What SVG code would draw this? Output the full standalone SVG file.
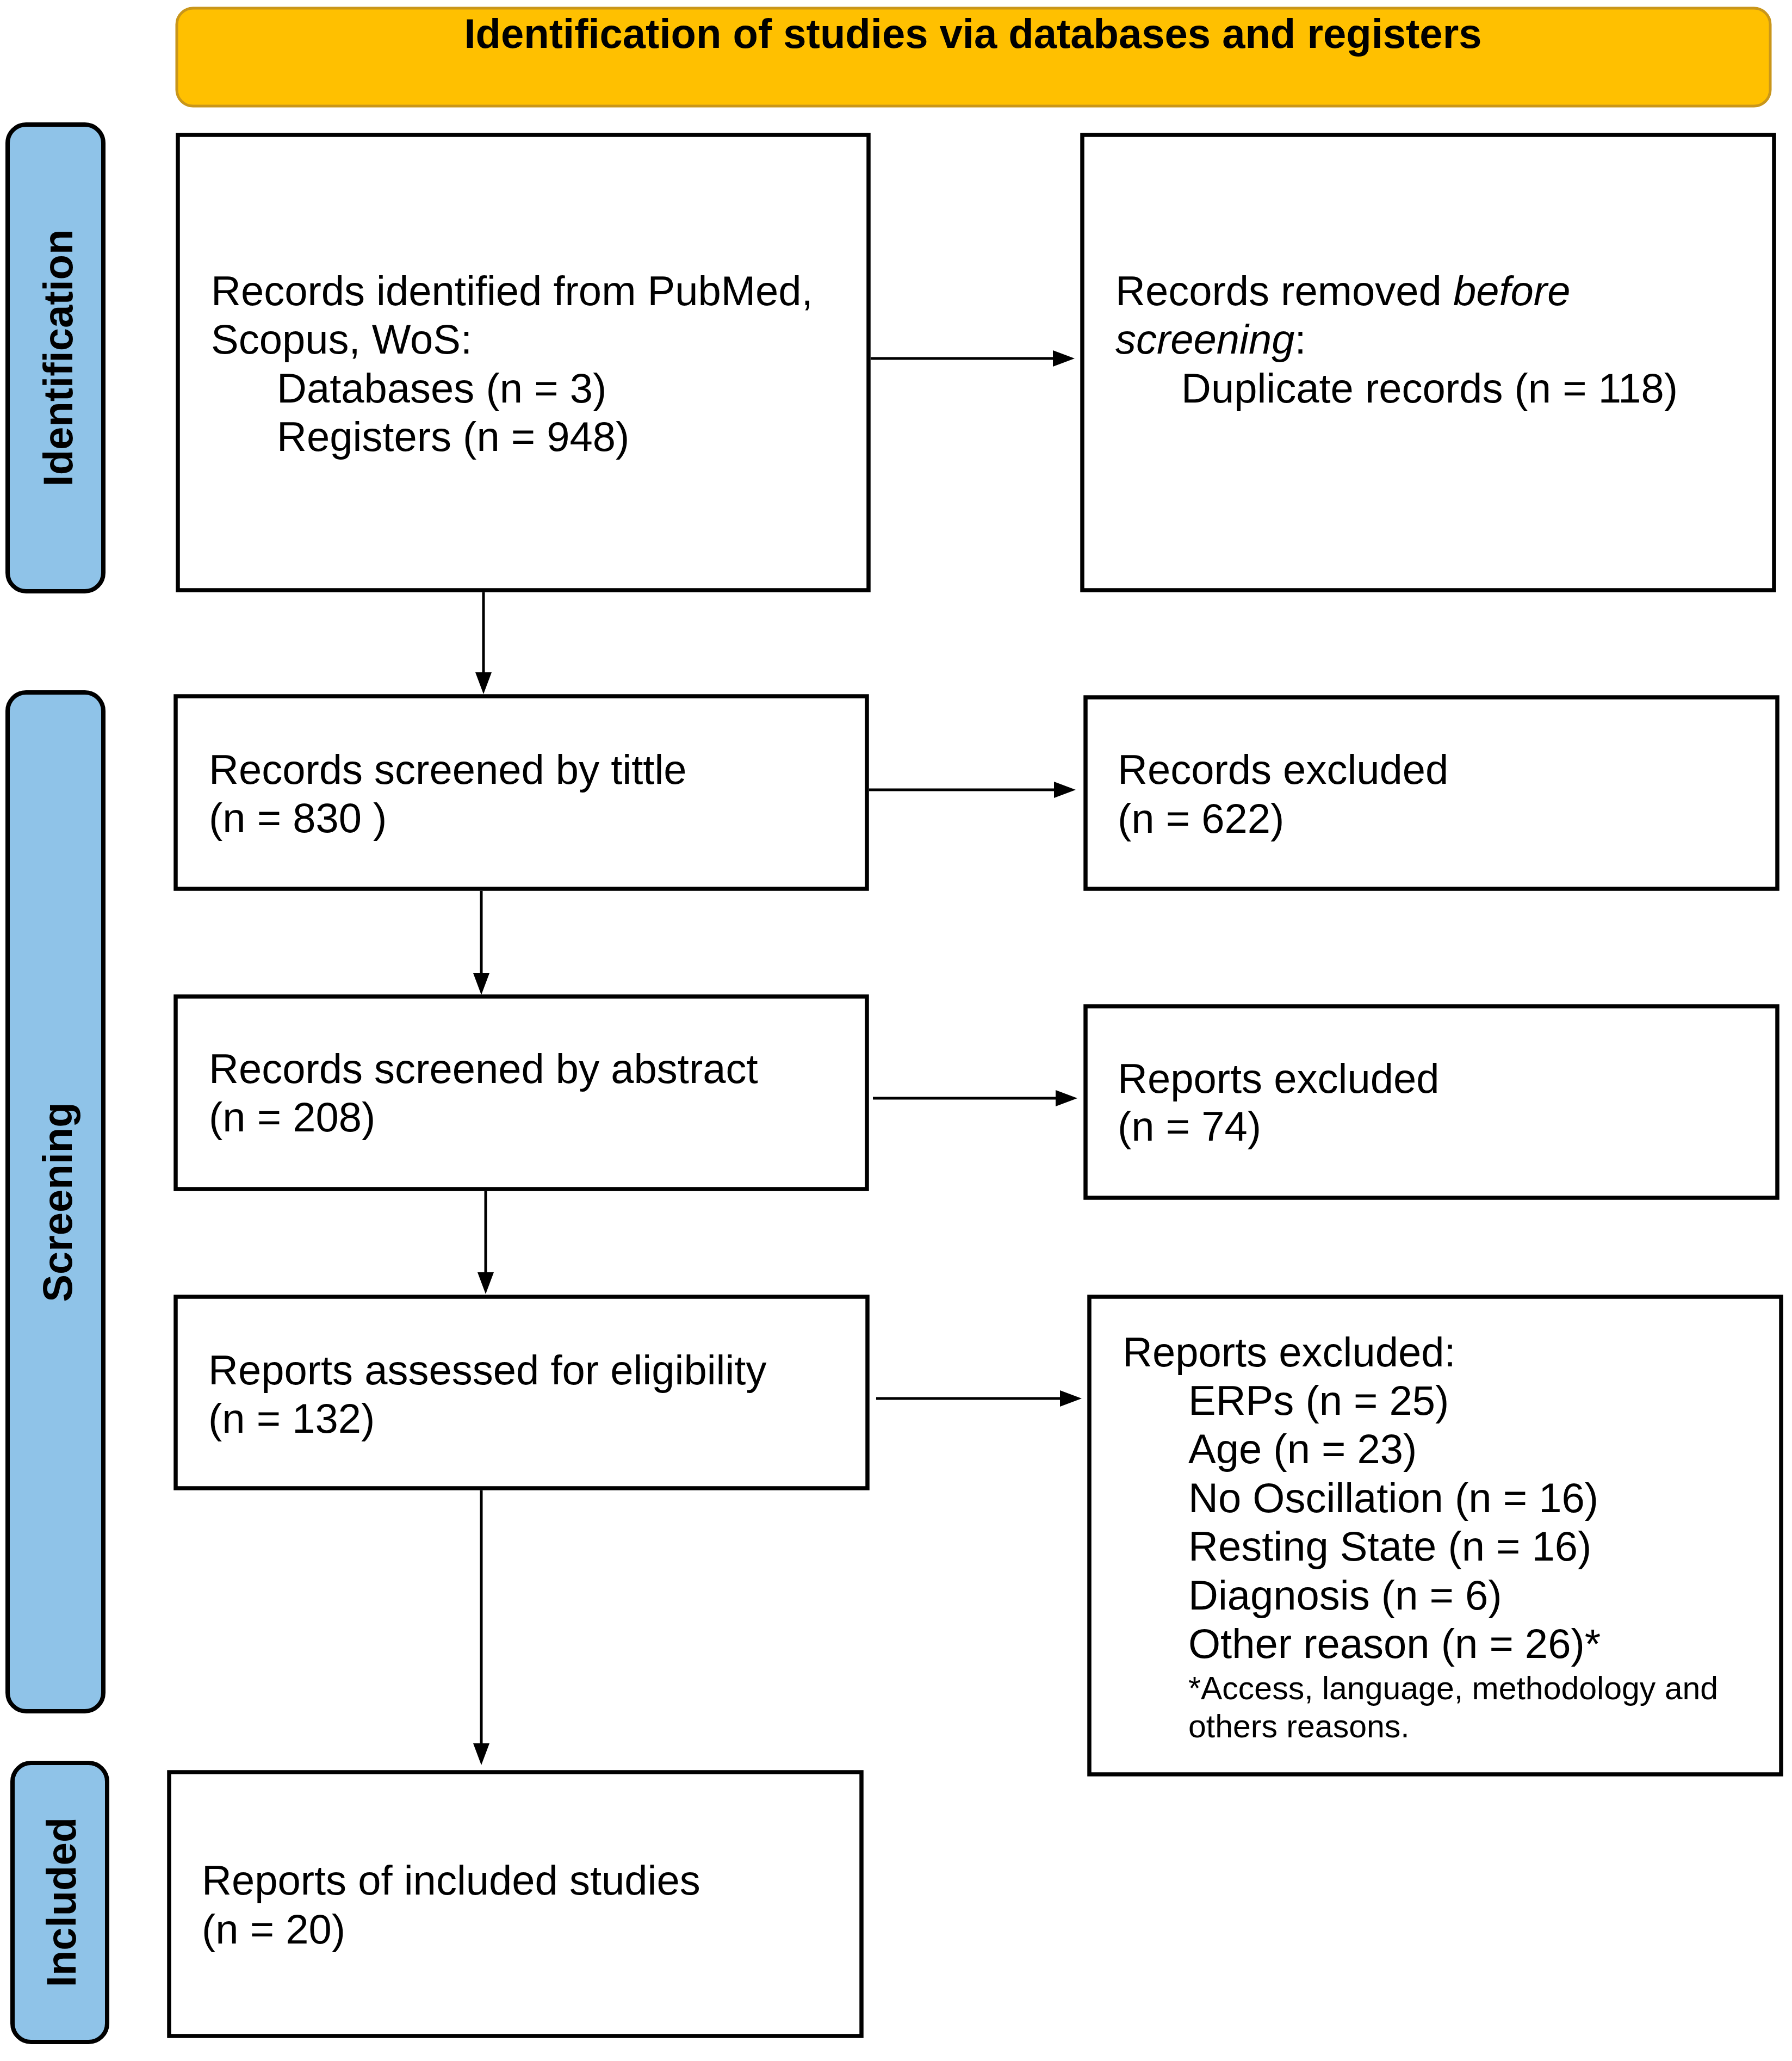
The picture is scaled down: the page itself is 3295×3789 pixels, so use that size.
<svg xmlns="http://www.w3.org/2000/svg" width="3295" height="3789" viewBox="0 0 3295 3789">
<style>
.box{fill:#ffffff;stroke:#000000;stroke-width:7.5}
.phase{fill:#8FC3E8;stroke:#000000;stroke-width:8}
.t{font-family:"Liberation Sans",Arial,sans-serif;font-size:76px;fill:#000000}
.ts{font-family:"Liberation Sans",Arial,sans-serif;font-size:59px;fill:#000000}
.pt{font-family:"Liberation Sans",Arial,sans-serif;font-size:76px;font-weight:bold;fill:#000000;text-anchor:middle}
.conn{stroke:#000000;stroke-width:5;fill:none}
</style>
<defs>
<marker id="ah" viewBox="0 0 40 30" refX="0" refY="15" markerWidth="40" markerHeight="30" markerUnits="userSpaceOnUse" orient="auto">
<path d="M0,0 L40,15 L0,30 z" fill="#000000"/>
</marker>
</defs>
<rect width="3295" height="3789" fill="#ffffff"/>

<g id="header">
<rect x="325" y="15" width="2930" height="180" rx="30" ry="30" fill="#FFC000" stroke="#C9961A" stroke-width="5"/>
<text class="pt" x="1789" y="88" font-size="77">Identification of studies via databases and registers</text>
</g>

<g id="phase-identification">
<rect class="phase" x="14" y="229" width="176" height="858" rx="34" ry="34"/>
<text class="pt" transform="translate(133,658) rotate(-90)" x="0" y="0">Identification</text>
</g>
<g id="phase-screening">
<rect class="phase" x="14" y="1273" width="176" height="1873" rx="34" ry="34"/>
<text class="pt" transform="translate(132,2210) rotate(-90)" x="0" y="0">Screening</text>
</g>
<g id="phase-included">
<rect class="phase" x="23" y="3241" width="174" height="513" rx="34" ry="34"/>
<text class="pt" transform="translate(139,3497) rotate(-90)" x="0" y="0">Included</text>
</g>

<g id="node-identified">
<rect class="box" x="327" y="248" width="1270" height="837"/>
<text class="t" x="388" y="561">Records identified from PubMed,</text>
<text class="t" x="388" y="650">Scopus, WoS:</text>
<text class="t" x="509" y="740">Databases (n = 3)</text>
<text class="t" x="509" y="829">Registers (n = 948)</text>
</g>

<g id="node-removed">
<rect class="box" x="1990" y="248" width="1272" height="837"/>
<text class="t" x="2051" y="561">Records removed <tspan font-style="italic">before</tspan></text>
<text class="t" x="2051" y="650"><tspan font-style="italic">screening</tspan>:</text>
<text class="t" x="2172" y="740">Duplicate records (n = 118)</text>
</g>

<g id="node-title">
<rect class="box" x="323" y="1280" width="1271" height="354"/>
<text class="t" x="384" y="1441">Records screened by tittle</text>
<text class="t" x="384" y="1530">(n = 830 )</text>
</g>

<g id="node-excluded-622">
<rect class="box" x="1996" y="1282" width="1272" height="352"/>
<text class="t" x="2055" y="1441">Records excluded</text>
<text class="t" x="2055" y="1531">(n = 622)</text>
</g>

<g id="node-abstract">
<rect class="box" x="323" y="1832" width="1271" height="354"/>
<text class="t" x="384" y="1991">Records screened by abstract</text>
<text class="t" x="384" y="2080">(n = 208)</text>
</g>

<g id="node-excluded-74">
<rect class="box" x="1996" y="1850" width="1272" height="352"/>
<text class="t" x="2055" y="2009">Reports excluded</text>
<text class="t" x="2055" y="2097">(n = 74)</text>
</g>

<g id="node-eligibility">
<rect class="box" x="323" y="2384" width="1272" height="352"/>
<text class="t" x="383" y="2545">Reports assessed for eligibility</text>
<text class="t" x="383" y="2634">(n = 132)</text>
</g>

<g id="node-excluded-reasons">
<rect class="box" x="2003" y="2384" width="1272" height="878"/>
<text class="t" x="2064" y="2512">Reports excluded:</text>
<text class="t" x="2185" y="2601">ERPs (n = 25)</text>
<text class="t" x="2185" y="2690">Age (n = 23)</text>
<text class="t" x="2185" y="2780">No Oscillation (n = 16)</text>
<text class="t" x="2185" y="2869">Resting State (n = 16)</text>
<text class="t" x="2185" y="2959">Diagnosis (n = 6)</text>
<text class="t" x="2185" y="3048">Other reason (n = 26)*</text>
<text class="ts" x="2185" y="3124">*Access, language, methodology and</text>
<text class="ts" x="2185" y="3194">others reasons.</text>
</g>

<g id="node-included">
<rect class="box" x="311" y="3258" width="1273" height="485"/>
<text class="t" x="371" y="3483">Reports of included studies</text>
<text class="t" x="371" y="3573">(n = 20)</text>
</g>

<g id="connectors">
<line class="conn" x1="1601" y1="659" x2="1936" y2="659" marker-end="url(#ah)"/>
<line class="conn" x1="889" y1="1089" x2="889" y2="1236" marker-end="url(#ah)"/>
<line class="conn" x1="1598" y1="1452" x2="1938" y2="1452" marker-end="url(#ah)"/>
<line class="conn" x1="885" y1="1638" x2="885" y2="1789" marker-end="url(#ah)"/>
<line class="conn" x1="1605" y1="2019" x2="1941" y2="2019" marker-end="url(#ah)"/>
<line class="conn" x1="893" y1="2190" x2="893" y2="2339" marker-end="url(#ah)"/>
<line class="conn" x1="1611" y1="2571" x2="1949" y2="2571" marker-end="url(#ah)"/>
<line class="conn" x1="885" y1="2740" x2="885" y2="3205" marker-end="url(#ah)"/>
</g>
</svg>
